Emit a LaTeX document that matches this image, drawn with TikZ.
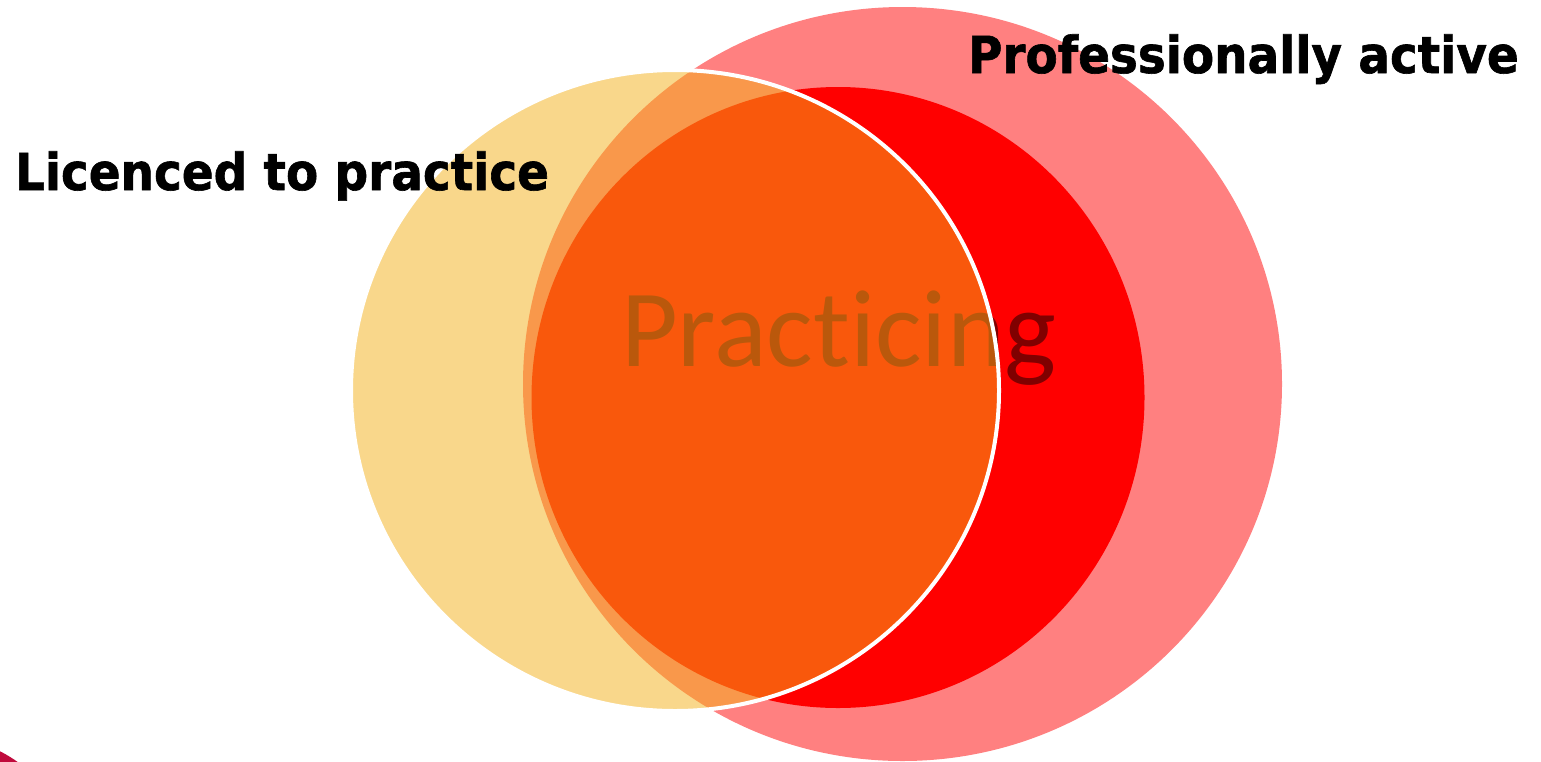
\documentclass[tikz,border=0pt]{standalone}
\usepackage{fontspec}
\newfontfamily\labelfont[FakeStretch=0.92, BoldFeatures={FakeBold=1.2}]{DejaVu Sans}
\newfontfamily\pracfont[Ligatures={NoCommon}, RawFeature={-liga;-clig}]{Carlito}
\definecolor{pinkc}{RGB}{255,128,128}
\definecolor{redc}{RGB}{255,0,0}
\definecolor{yelc}{RGB}{245,176,24}
\definecolor{textc}{RGB}{128,0,0}
\definecolor{crim}{RGB}{192,10,60}
\tikzset{
  lbl/.style={inner sep=0pt, outer sep=0pt, anchor=base west, font=\labelfont\bfseries\fontsize{51}{51}\selectfont, text=black},
  prac/.style={inner sep=0pt, outer sep=0pt, anchor=base west, font=\pracfont\fontsize{110}{110}\selectfont, text=textc},
}
\begin{document}
\begin{tikzpicture}[x=1pt,y=-1pt]
\useasboundingbox (0,0) rectangle (1541,761);
\clip (0,0) rectangle (1541,761);
\fill[white] (0,0) rectangle (1541,761);
\fill[crim] (-60,870) circle[radius=133];
\fill[pinkc] (902.5,384) ellipse[x radius=379.5, y radius=377];
\fill[redc] (838,397.5) ellipse[x radius=306.5, y radius=310.5];
\node[prac] (practicing) at (621,366) {Practicing};
\fill[yelc, fill opacity=0.5] (675,390.5) ellipse[x radius=324, y radius=320.5];
\draw[white, line width=4pt] (675,390.5) ellipse[x radius=324, y radius=320.5];
\node[lbl] (licenced) at (15,190) {Licenced to practice};
\node[lbl] (active) at (968,73) {Professionally active};
\end{tikzpicture}
\end{document}
